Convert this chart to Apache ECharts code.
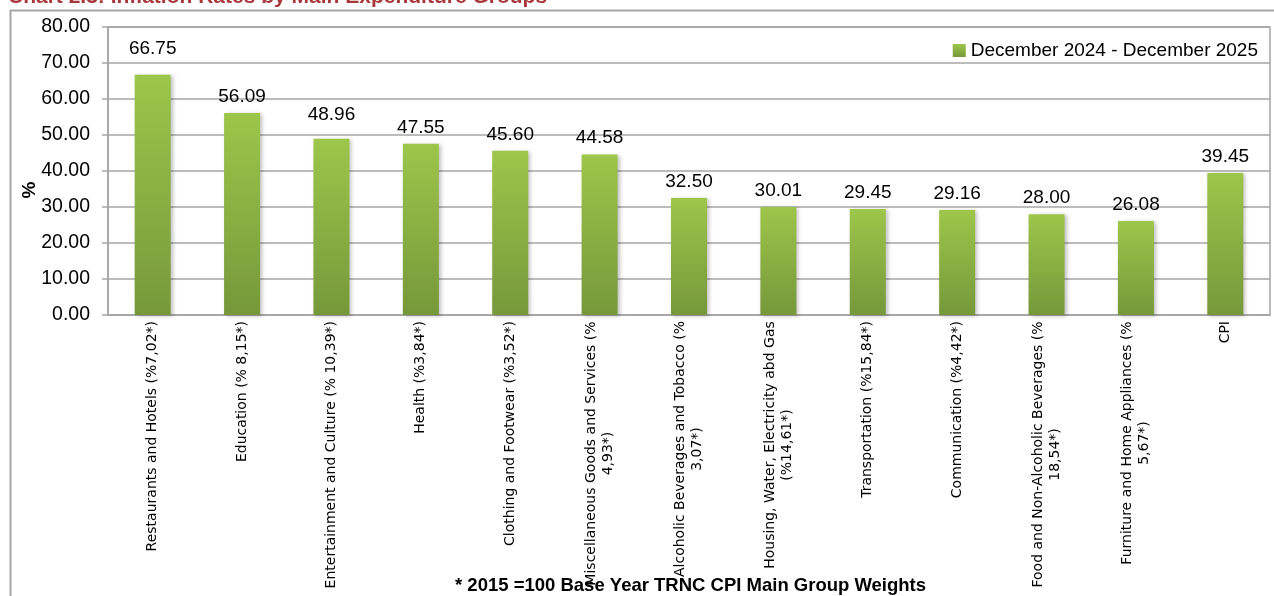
<!DOCTYPE html>
<html>
<head>
<meta charset="utf-8">
<title>Inflation Rates by Main Expenditure Groups</title>
<script src="https://cdn.jsdelivr.net/npm/echarts@6/dist/echarts.min.js"></script>
<style>
  html, body { margin: 0; padding: 0; background: #fff; }
  #chart { width: 1274px; height: 596px; }
</style>
</head>
<body>
<div id="chart"></div>
<script>
// kategoriler (ikinci satir \n ile)
var categories = [
    "Restaurants and Hotels (%7,02*)",
    "Education (% 8,15*)",
    "Entertainment and Culture (% 10,39*)",
    "Health (%3,84*)",
    "Clothing and Footwear (%3,52*)",
    "Miscellaneous Goods and Services (%\n4,93*)",
    "Alcoholic Beverages and Tobacco (%\n3,07*)",
    "Housing, Water, Electricity abd Gas\n(%14,61*)",
    "Transportation (%15,84*)",
    "Communication (%4,42*)",
    "Food and Non-Alcoholic Beverages (%\n18,54*)",
    "Furniture and Home Appliances (%\n5,67*)",
    "CPI"
];
var rates = [66.75, 56.09, 48.96, 47.55, 45.60, 44.58, 32.50, 30.01, 29.45, 29.16, 28.00, 26.08, 39.45];
var seriesName = "December 2024 - December 2025";
var yTicks = [0, 10, 20, 30, 40, 50, 60, 70, 80];

// excelde elle kaydirilmis etiketler
var labelLift = { 0: 9, 2: 7 };

var catFont = "14px 'DejaVu Sans'";
var cv = document.createElement("canvas").getContext("2d");
cv.font = catFont;

// iki satirli etiketleri ortala (Excel gibi)
var rich = {};
function catLabel(v) {
    var lines = v.split("\n");
    if (lines.length < 2) return v;
    var w = Math.ceil(cv.measureText(lines[0]).width);
    return lines.map(function (l) { return "{c" + w + "|" + l + "}"; }).join("\n");
}
categories.forEach(function (v) {
    var lines = v.split("\n");
    if (lines.length > 1) {
        var w = Math.ceil(cv.measureText(lines[0]).width);
        rich["c" + w] = { width: w, align: "center", fontFamily: "DejaVu Sans", fontSize: 14, color: "#000", lineHeight: 17 };
    }
});

var barData = rates.map(function (v, i) {
    var d = { value: v };
    if (labelLift[i]) d.label = { distance: 7 + labelLift[i] };
    return d;
});

var gray = "#a6a6a6";
var myChart = echarts.init(document.getElementById("chart"));
var option = {
    backgroundColor: "#fff",
    animation: false,
    grid: { left: 108, right: 4, top: 27, bottom: 281, show: true, borderColor: gray, borderWidth: 1.5 },
    legend: {
        right: 11, top: 36,
        icon: "rect",
        itemWidth: 13, itemHeight: 13, itemGap: 6,
        textStyle: { fontFamily: "Liberation Sans", fontSize: 19, color: "#000" },
        data: [seriesName]
    },
    xAxis: {
        type: "category",
        data: categories,
        axisLine: { lineStyle: { color: gray, width: 1.5 } },
        axisTick: { length: 5, lineStyle: { color: gray, width: 1.5 } },
        axisLabel: {
            rotate: 90, interval: 0, margin: 6,
            fontFamily: "DejaVu Sans", fontSize: 14, color: "#000", lineHeight: 17,
            formatter: catLabel, rich: rich
        }
    },
    yAxis: {
        type: "value",
        min: yTicks[0], max: yTicks[yTicks.length - 1], interval: 10,
        name: "%", nameLocation: "middle", nameGap: 69, nameRotate: 90,
        nameMoveOverlap: false,
        nameTextStyle: { fontFamily: "Liberation Sans", fontWeight: "bold", fontSize: 19, color: "#000",
                         padding: [0, 38, 0, 0] },
        axisLine: { show: true, lineStyle: { color: gray, width: 1.5 } },
        axisTick: { show: true, length: 6, lineStyle: { color: gray, width: 1.5 } },
        splitLine: { lineStyle: { color: gray, width: 1.5 } },
        axisLabel: {
            margin: 18, fontFamily: "Liberation Sans", fontSize: 19.5, color: "#000",
            formatter: function (v) { return v.toFixed(2); }
        }
    },
    series: [{
        name: seriesName,
        type: "bar",
        data: barData,
        barWidth: 36,
        itemStyle: {
            color: new echarts.graphic.LinearGradient(0, 0, 0, 1, [
                { offset: 0, color: "#9dc64a" },
                { offset: 1, color: "#76983a" }
            ]),
            shadowColor: "rgba(0,0,0,0.25)", shadowBlur: 4, shadowOffsetX: 2, shadowOffsetY: 1
        },
        label: {
            show: true, position: "top", distance: 7,
            fontFamily: "Liberation Sans", fontSize: 19, color: "#000",
            formatter: function (p) { return p.value.toFixed(2); }
        }
    }],
    graphic: [
        {
            type: "rect", left: 8, top: 8, z: -1,
            shape: { width: 1290, height: 620 },
            style: { fill: null, stroke: gray, lineWidth: 2 }
        },
        {
            type: "text", left: 8, top: -13,
            style: { text: "Chart 2.3: Inflation Rates by Main Expenditure Groups", fill: "#a8383b",
                     font: "bold 21px 'Liberation Sans'" }
        },
        {
            type: "text", left: 455, top: 576,
            style: { text: "* 2015 =100 Base Year TRNC CPI Main Group Weights", fill: "#000",
                     font: "bold 18.5px 'Liberation Sans'" }
        }
    ]
};
myChart.setOption(option);
</script>
</body>
</html>
